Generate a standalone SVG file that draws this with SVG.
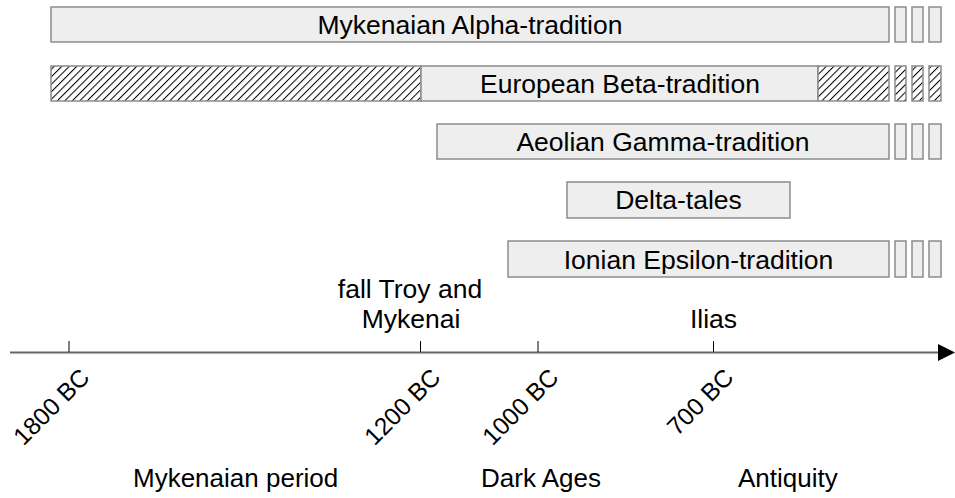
<svg xmlns="http://www.w3.org/2000/svg" width="955" height="498" viewBox="0 0 955 498">
<defs>
<pattern id="hatch" patternUnits="userSpaceOnUse" width="5.3" height="10" patternTransform="rotate(45)">
<rect width="5.3" height="10" fill="#ffffff"/>
<line x1="0.5" y1="0" x2="0.5" y2="10" stroke="#000" stroke-width="1"/>
</pattern>
</defs>
<style>
.bar{fill:#eeeeee;stroke:#8c8c8c;stroke-width:1.5}
.hb{fill:url(#hatch);stroke:#8c8c8c;stroke-width:1.5}
.lbl{font-family:"Liberation Sans",Arial,sans-serif;font-size:26.5px;fill:#000;text-anchor:middle}
.tk{font-family:"Liberation Sans",Arial,sans-serif;font-size:24.5px;fill:#000;text-anchor:end}
.per{font-family:"Liberation Sans",Arial,sans-serif;font-size:26px;fill:#000;text-anchor:start}
</style>
<g id="alpha">
<rect class="bar" x="51" y="7" width="838" height="35"/>
<rect class="bar" x="895" y="7" width="11" height="35"/>
<rect class="bar" x="912" y="7" width="11" height="35"/>
<rect class="bar" x="929" y="7" width="12" height="35"/>
<text class="lbl" x="470" y="33.5">Mykenaian Alpha-tradition</text>
</g>
<g id="beta">
<rect class="hb" x="51" y="66" width="370" height="35"/>
<rect class="bar" x="421" y="66" width="397" height="35"/>
<rect class="hb" x="818" y="66" width="71" height="35"/>
<rect class="hb" x="895" y="66" width="11" height="35"/>
<rect class="hb" x="912" y="66" width="11" height="35"/>
<rect class="hb" x="929" y="66" width="12" height="35"/>
<text class="lbl" x="620" y="92.5">European Beta-tradition</text>
</g>
<g id="gamma">
<rect class="bar" x="437" y="124" width="452" height="35"/>
<rect class="bar" x="895" y="124" width="11" height="35"/>
<rect class="bar" x="912" y="124" width="11" height="35"/>
<rect class="bar" x="929" y="124" width="12" height="35"/>
<text class="lbl" x="663" y="150.5">Aeolian Gamma-tradition</text>
</g>
<g id="delta">
<rect class="bar" x="567" y="182" width="223" height="36"/>
<text class="lbl" x="678.5" y="209">Delta-tales</text>
</g>
<g id="epsilon">
<rect class="bar" x="508" y="241" width="381" height="36"/>
<rect class="bar" x="895" y="241" width="11" height="36"/>
<rect class="bar" x="912" y="241" width="11" height="36"/>
<rect class="bar" x="929" y="241" width="12" height="36"/>
<text class="lbl" x="698.5" y="268.5">Ionian Epsilon-tradition</text>
</g>
<g id="axis">
<line x1="10" y1="352.5" x2="940" y2="352.5" stroke="#666" stroke-width="2"/>
<polygon points="938,344 955,352.5 938,361" fill="#000"/>
<g stroke="#000" stroke-width="1">
<line x1="69" y1="341" x2="69" y2="352"/>
<line x1="420.5" y1="341" x2="420.5" y2="352"/>
<line x1="538" y1="341" x2="538" y2="352"/>
<line x1="713.5" y1="341" x2="713.5" y2="352"/>
</g>
<text class="tk" transform="translate(91,379) rotate(-45)">1800 BC</text>
<text class="tk" transform="translate(442,379) rotate(-45)">1200 BC</text>
<text class="tk" transform="translate(560,379) rotate(-45)">1000 BC</text>
<text class="tk" transform="translate(735,379) rotate(-45)">700 BC</text>
</g>
<g id="events">
<text class="lbl" x="410" y="298">fall Troy and</text>
<text class="lbl" x="411" y="328">Mykenai</text>
<text class="lbl" x="713.5" y="328">Ilias</text>
</g>
<g id="periods">
<text class="per" x="133" y="487">Mykenaian period</text>
<text class="per" x="481" y="487">Dark Ages</text>
<text class="per" x="738" y="487">Antiquity</text>
</g>
</svg>
